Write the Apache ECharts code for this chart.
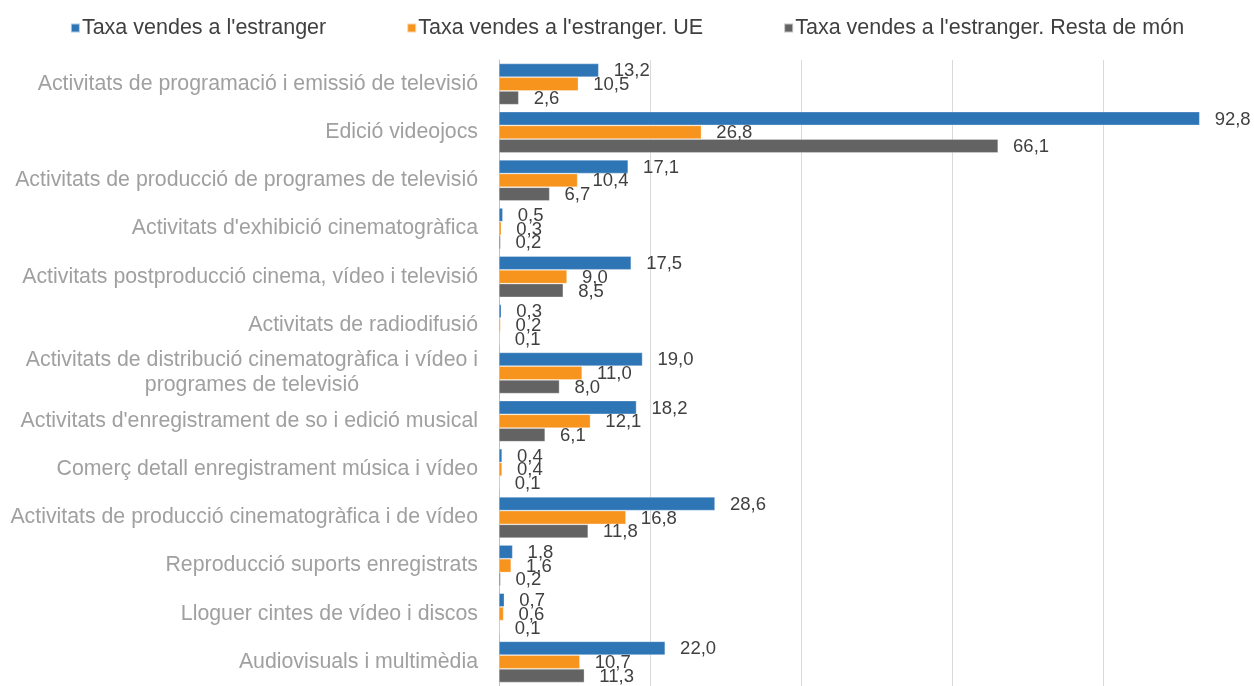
<!DOCTYPE html>
<html>
<head>
<meta charset="utf-8">
<script src="https://cdn.jsdelivr.net/npm/echarts@6/dist/echarts.min.js"></script>
<style>
  html, body { margin: 0; padding: 0; background: #fff; }
  #chart { width: 1254px; height: 686px; }
</style>
</head>
<body>
<div id="chart"></div>
<script>
const categories = [
  "Activitats de programació i emissió de televisió",
  "Edició videojocs",
  "Activitats de producció de programes de televisió",
  "Activitats d'exhibició cinematogràfica",
  "Activitats postproducció cinema, vídeo i televisió",
  "Activitats de radiodifusió",
  "Activitats de distribució cinematogràfica i vídeo i\nprogrames de televisió",
  "Activitats d'enregistrament de so i edició musical",
  "Comerç detall enregistrament música i vídeo",
  "Activitats de producció cinematogràfica i de vídeo",
  "Reproducció suports enregistrats",
  "Lloguer cintes de vídeo i discos",
  "Audiovisuals i multimèdia"
];
const seriesNames = [
  "Taxa vendes a l'estranger",
  "Taxa vendes a l'estranger. UE",
  "Taxa vendes a l'estranger. Resta de món"
];
const totalValues = [13.2, 92.8, 17.1, 0.5, 17.5, 0.3, 19.0, 18.2, 0.4, 28.6, 1.8, 0.7, 22.0];
const ueValues    = [10.5, 26.8, 10.4, 0.3, 9.0, 0.2, 11.0, 12.1, 0.4, 16.8, 1.6, 0.6, 10.7];
const restValues  = [2.6, 66.1, 6.7, 0.2, 8.5, 0.1, 8.0, 6.1, 0.1, 11.8, 0.2, 0.1, 11.3];
const xTicks = [0, 20, 40, 60, 80, 100];

const colors = ["#2E75B6", "#F7941D", "#636363"];
const font = "Liberation Sans, Arial, sans-serif";

const chart = echarts.init(document.getElementById("chart"));

function makeSeries(name, data, color) {
  return {
    name: name,
    type: "bar",
    data: data,
    barGap: "2%",
    barCategoryGap: "15%",
    itemStyle: { color: color, borderColor: "rgba(255,255,255,0.6)", borderWidth: 0.5 },
    label: {
      show: true,
      position: "right",
      distance: 15,
      offset: [0, 1],
      color: "#404040",
      fontFamily: font,
      fontSize: 18.5,
      formatter: (p) => p.value.toFixed(1).replace(".", ",") // coma decimal
    }
  };
}

const option = {
  animation: false,
  backgroundColor: "#fff",
  textStyle: { fontFamily: font },
  legend: {
    top: 12,
    left: "center",
    itemWidth: 9,
    itemHeight: 9,
    itemGap: 80,
    icon: "rect",
    textStyle: { color: "#404040", fontSize: 21.5, fontFamily: font, padding: [0, 0, 0, -3] },
    data: seriesNames
  },
  grid: { left: 499, right: 0, top: 60, height: 629, containLabel: false },
  xAxis: {
    type: "value",
    min: 0,
    max: xTicks[xTicks.length - 1],
    interval: xTicks[1] - xTicks[0],
    axisLabel: { show: false },
    axisLine: { show: false },
    axisTick: { show: false },
    splitLine: { lineStyle: { color: "#D9D9D9", width: 1 } }
  },
  yAxis: {
    type: "category",
    inverse: true,
    data: categories,
    axisLine: { show: true, lineStyle: { color: "#BFBFBF" } },
    axisTick: { show: false },
    axisLabel: {
      margin: 21,
      color: "#A0A0A0",
      fontSize: 21.3,
      fontFamily: font,
      lineHeight: 25,
      formatter: (v) => v.split("\n").map((s) => "{c|" + s + "}").join("\n"),
      rich: { c: { align: "center", color: "#A0A0A0", fontSize: 21.3, fontFamily: font, lineHeight: 25 } }
    }
  },
  series: [
    makeSeries(seriesNames[0], totalValues, colors[0]),
    makeSeries(seriesNames[1], ueValues, colors[1]),
    makeSeries(seriesNames[2], restValues, colors[2])
  ]
};

chart.setOption(option);
</script>
</body>
</html>
